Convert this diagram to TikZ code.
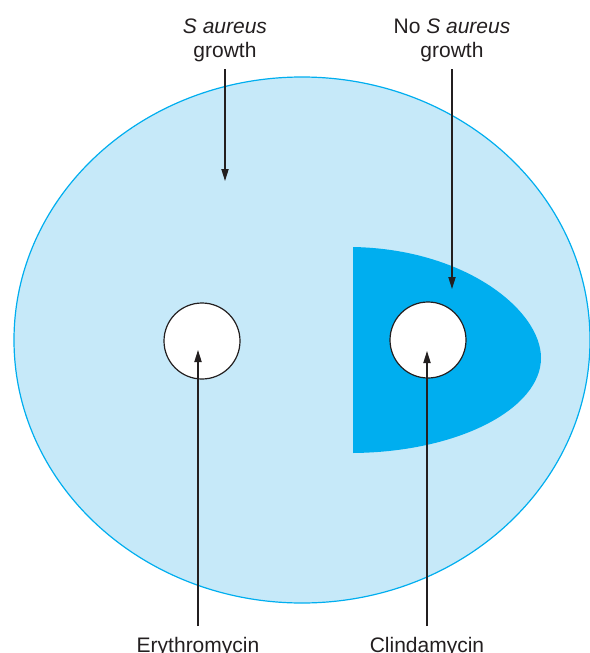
\documentclass[tikz,border=0pt]{standalone}
\usepackage{fontspec}
\setmainfont{Liberation Sans}
\usetikzlibrary{arrows.meta}
\definecolor{plate}{RGB}{198,233,249}
\definecolor{rim}{RGB}{0,174,239}
\definecolor{zone}{RGB}{0,174,239}
\definecolor{ink}{RGB}{35,31,32}
\tikzset{
  lab/.style={align=center, inner sep=0pt, text=ink, font=\fontsize{10.5}{12}\selectfont},
  disk/.style={circle, draw=ink, fill=white, line width=0.6pt, minimum size=38pt, inner sep=0pt},
  pointer/.style={draw=ink, line width=0.65pt, -{Triangle[length=6pt,width=3.6pt]}}
}
\begin{document}
\begin{tikzpicture}[x=0.5pt, y=-0.5pt]
  \useasboundingbox (0,0) rectangle (589,653);
  % Plate with S aureus lawn
  \draw[draw=rim, fill=plate, line width=0.6pt] (302,340) ellipse [x radius=144pt, y radius=131.5pt];
  % Zone of inhibition next to clindamycin
  \fill[zone] (353,247) .. controls (465,249) and (541,310) .. (541,358)
    .. controls (541,408) and (460,452) .. (353,453) -- cycle;

  % Disks
  \node[disk] (ery) at (202,341) {};
  \node[disk] (cli) at (428,340) {};

  % Labels
  \node[lab, anchor=south] (grow) at (225,62) {\textit{S aureus}\\growth};
  \node[lab, anchor=south] (nogrow) at (452,62) {No \textit{S aureus}\\growth};
  \node[lab, anchor=north] (erylab) at (198,637) {Erythromycin};
  \node[lab, anchor=north] (clilab) at (427,637) {Clindamycin};

  % Pointers
  \coordinate (lawn) at (225,181);
  \coordinate (clear) at (452,289);
  \coordinate (erytip) at (198,350);
  \coordinate (clitip) at (427,351);
  \draw[pointer, shorten <=3.5pt] (grow.south) -- (lawn);
  \draw[pointer, shorten <=3.5pt] (nogrow.south) -- (clear);
  \draw[pointer, shorten <=5.5pt] (erylab.north) -- (erytip);
  \draw[pointer, shorten <=5.5pt] (clilab.north) -- (clitip);
\end{tikzpicture}
\end{document}
